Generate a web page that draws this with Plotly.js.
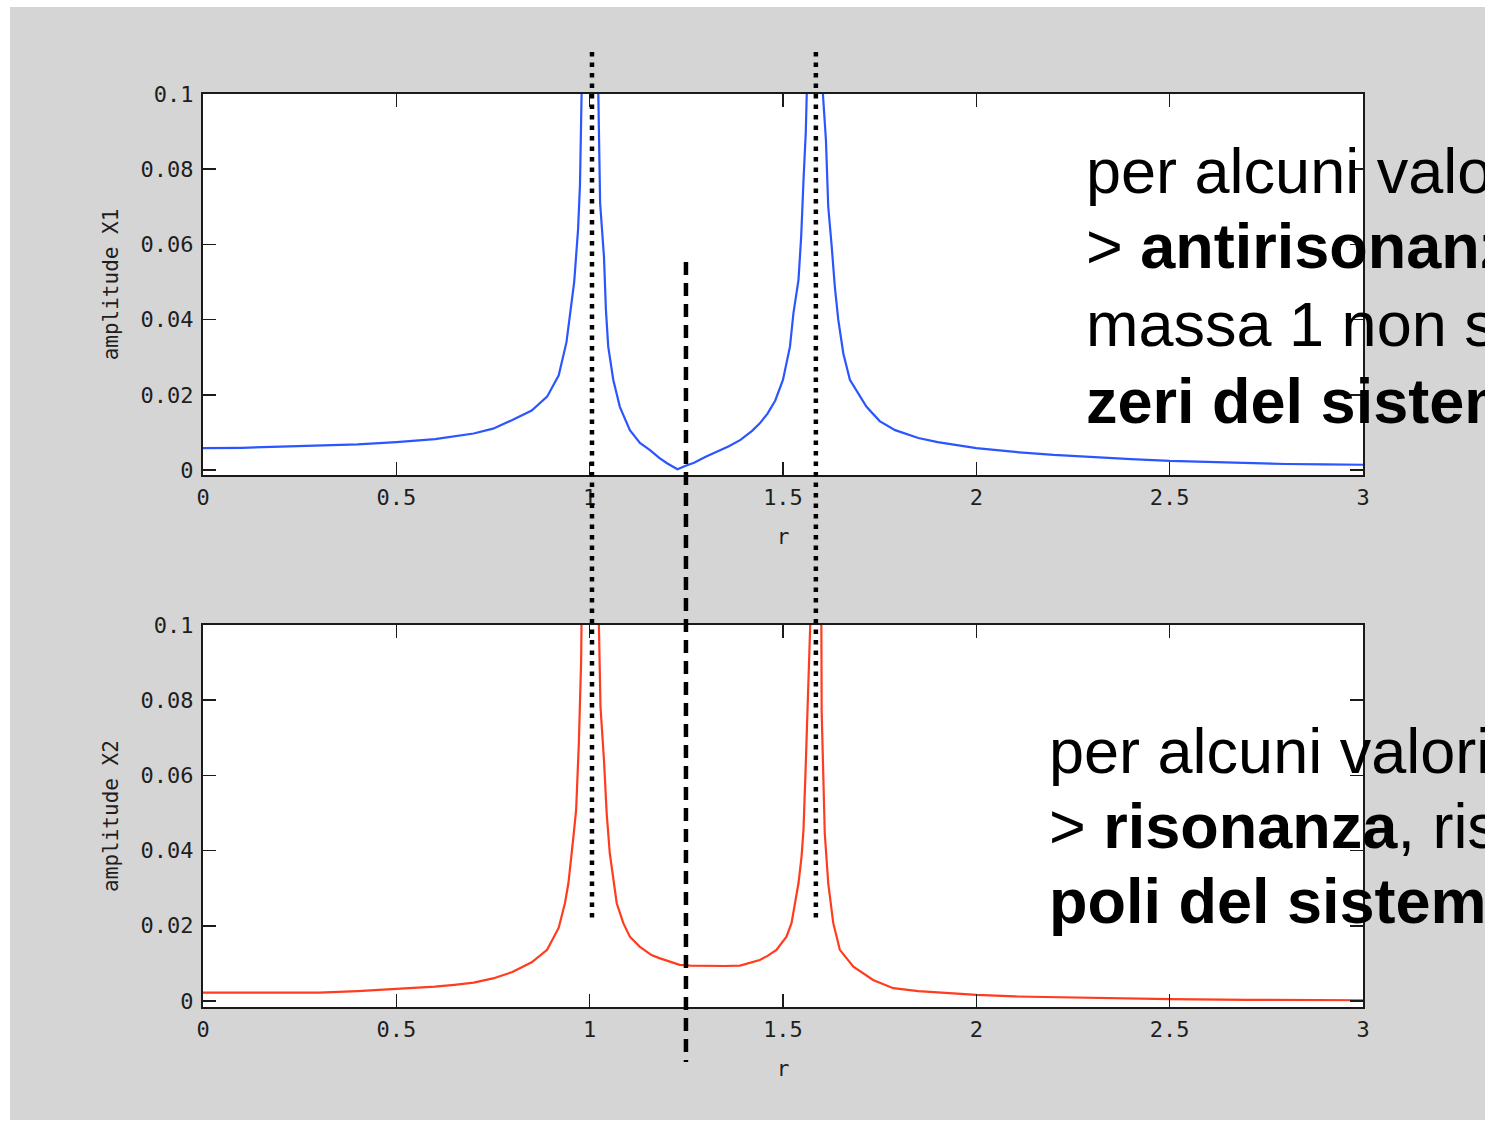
<!DOCTYPE html>
<html>
<head>
<meta charset="utf-8">
<script src="https://cdn.plot.ly/plotly-3.0.1.min.js"></script>
<style>
  html, body { margin: 0; padding: 0; background: #ffffff; }
  #plot { position: absolute; left: 10px; top: 7px; width: 1475px; height: 1113px; }
</style>
</head>
<body>
<div id="plot"></div>
<script>
// ---- Data ----
// Amplitude of mass 1 (X1) versus frequency ratio r
const rX1 = [0, 0.1, 0.2, 0.3, 0.4, 0.5, 0.6, 0.7, 0.75, 0.8, 0.85, 0.89, 0.92, 0.94, 0.95, 0.96, 0.97, 0.975, 0.98, 0.99,
  1.0, 1.01, 1.02, 1.027, 1.037, 1.042, 1.048, 1.061, 1.078, 1.104, 1.13, 1.156, 1.18, 1.2, 1.227, 1.25, 1.27, 1.3, 1.33,
  1.36, 1.39, 1.42, 1.44, 1.46, 1.48, 1.5, 1.518, 1.527, 1.54, 1.547, 1.553, 1.559, 1.565, 1.575, 1.58, 1.59, 1.6,
  1.611, 1.617, 1.626, 1.634, 1.643, 1.656, 1.673, 1.7, 1.716, 1.75, 1.79, 1.85, 1.9, 2.0, 2.1, 2.2, 2.3, 2.4, 2.5,
  2.6, 2.7, 2.8, 2.9, 3.0];
const X1 = [0.0058, 0.0059, 0.0062, 0.0064, 0.0068, 0.0074, 0.0082, 0.0097, 0.0110, 0.0133, 0.0158, 0.0195, 0.0252, 0.0340, 0.0420, 0.0500, 0.0640, 0.0760, 0.1050, 0.2200,
  1.0, 0.2400, 0.1150, 0.0710, 0.0567, 0.0426, 0.0328, 0.0240, 0.0168, 0.0106, 0.0072, 0.0053, 0.0032, 0.0018, 0.0002, 0.0012, 0.0019, 0.0035, 0.0049,
  0.0063, 0.0080, 0.0104, 0.0124, 0.0150, 0.0185, 0.0240, 0.0328, 0.0417, 0.0505, 0.0620, 0.0770, 0.0900, 0.1150, 0.2500, 1.0, 0.3000, 0.1050,
  0.0878, 0.0700, 0.0594, 0.0488, 0.0399, 0.0310, 0.0240, 0.0195, 0.0168, 0.0130, 0.0106, 0.0085, 0.0074, 0.0058, 0.0048, 0.0040, 0.0034, 0.0029, 0.0024,
  0.0021, 0.0018, 0.0016, 0.0015, 0.0014];

// Amplitude of mass 2 (X2) versus frequency ratio r
const rX2 = [0, 0.1, 0.2, 0.3, 0.4, 0.5, 0.55, 0.6, 0.65, 0.7, 0.75, 0.8, 0.85, 0.89, 0.92, 0.936, 0.945, 0.951, 0.958, 0.965,
  0.972, 0.978, 0.985, 0.993, 1.005, 1.015, 1.022, 1.028, 1.037, 1.044, 1.052, 1.061, 1.07, 1.087, 1.104, 1.13, 1.16, 1.18,
  1.21, 1.233, 1.26, 1.3, 1.35, 1.389, 1.42, 1.44, 1.46, 1.483, 1.509, 1.522, 1.531, 1.54, 1.548, 1.553, 1.559, 1.566,
  1.572, 1.578, 1.584, 1.592, 1.6, 1.608, 1.617, 1.63, 1.647, 1.682, 1.733, 1.785, 1.85, 1.9, 2.0, 2.1, 2.2, 2.3, 2.5,
  2.7, 3.0];
const X2 = [0.0022, 0.0022, 0.0022, 0.0022, 0.0026, 0.0031, 0.0034, 0.0038, 0.0043, 0.0049, 0.0060, 0.0077, 0.0103, 0.0136, 0.0195, 0.0260, 0.0313, 0.0366, 0.0437, 0.0508,
  0.0685, 0.0907, 0.1200, 0.2500, 1.0, 0.2500, 0.1100, 0.0783, 0.0641, 0.0499, 0.0393, 0.0331, 0.0260, 0.0207, 0.0171, 0.0144, 0.0122, 0.0114,
  0.0103, 0.0096, 0.0094, 0.0093, 0.0093, 0.0094, 0.0102, 0.0109, 0.0120, 0.0136, 0.0171, 0.0207, 0.0260, 0.0313, 0.0384, 0.0455, 0.0632, 0.0863,
  0.1050, 0.3000, 1.0, 0.3000, 0.0770, 0.0446, 0.0313, 0.0207, 0.0136, 0.0091, 0.0056, 0.0034, 0.0026, 0.0022, 0.0016, 0.0012, 0.0010, 0.0008, 0.0005,
  0.0003, 0.0002];

// Reference lines: resonances (dotted) and antiresonance (dashed)
const resonanceR = [1.006, 1.585];
const antiresonanceR = [1.249];

// Axis ticks
const xTickVals = [0, 0.5, 1, 1.5, 2, 2.5, 3];
const xTickText = ['0', '0.5', '1', '1.5', '2', '2.5', '3'];
const yTickVals = [0, 0.02, 0.04, 0.06, 0.08, 0.1];
const yTickText = ['0', '0.02', '0.04', '0.06', '0.08', '0.1'];

// Texts
const topLines = ['per alcuni valori', '&gt; <b>antirisonanza</b>', 'massa 1 non si muove', '<b>zeri del sistema</b>'];
const bottomLines = ['per alcuni valori', '&gt; <b>risonanza</b>, risposta', '<b>poli del sistema</b>'];

// ---- Styling ----
const tickFont = { family: 'DejaVu Sans Mono, monospace', size: 22, color: '#1e1e1e' };
const titleFont = { family: 'DejaVu Sans Mono, monospace', size: 21, color: '#1e1e1e' };
const lineColor = '#1a1a1a';

function xAxis(anchor) {
  return {
    anchor: anchor, domain: [0, 1], range: [0, 3],
    tickmode: 'array', tickvals: xTickVals, ticktext: xTickText,
    ticks: 'inside', ticklen: 13, tickwidth: 1.5, tickcolor: lineColor,
    showline: true, linewidth: 2, linecolor: lineColor, mirror: 'ticks',
    showgrid: false, zeroline: false, tickfont: tickFont, ticklabelstandoff: 2,
    title: { text: 'r', font: titleFont, standoff: 20 }
  };
}
function yAxis(anchor, domain, range, label) {
  return {
    anchor: anchor, domain: domain, range: range,
    tickmode: 'array', tickvals: yTickVals, ticktext: yTickText,
    ticks: 'inside', ticklen: 13, tickwidth: 1.5, tickcolor: lineColor,
    showline: true, linewidth: 2, linecolor: lineColor, mirror: 'ticks',
    showgrid: false, zeroline: false, tickfont: tickFont, ticklabelstandoff: 3,
    title: { text: label, font: titleFont, standoff: 16 }
  };
}

const traces = [
  { x: rX1, y: X1, xaxis: 'x', yaxis: 'y', mode: 'lines', line: { color: '#2b55ff', width: 2.2 }, hoverinfo: 'x+y' },
  { x: rX2, y: X2, xaxis: 'x2', yaxis: 'y2', mode: 'lines', line: { color: '#ff3c1e', width: 2.2 }, hoverinfo: 'x+y' }
];

const shapes = [];
resonanceR.forEach(r => shapes.push({
  type: 'line', xref: 'x', yref: 'paper', x0: r, x1: r, y0: 1.046, y1: 0.0975,
  line: { color: '#000000', width: 4.5, dash: '4.5px,6px' }, layer: 'above'
}));
antiresonanceR.forEach(r => shapes.push({
  type: 'line', xref: 'x', yref: 'paper', x0: r, x1: r, y0: 0.816, y1: -0.0602,
  line: { color: '#000000', width: 4.5, dash: '13px,8px' }, layer: 'above'
}));

const annFont = { family: 'Liberation Sans, Arial, sans-serif', size: 63, color: '#000000' };
const annotations = [];
const topY = [0.9157, 0.8335, 0.7481, 0.6637];
const botY = [0.2804, 0.1982, 0.1161];
topLines.forEach((t, i) => annotations.push({
  xref: 'paper', yref: 'paper', x: 0.7598, y: topY[i], xanchor: 'left', yanchor: 'middle',
  text: t, showarrow: false, align: 'left', font: annFont
}));
bottomLines.forEach((t, i) => annotations.push({
  xref: 'paper', yref: 'paper', x: 0.7280, y: botY[i], xanchor: 'left', yanchor: 'middle',
  text: t, showarrow: false, align: 'left', font: annFont
}));

const layout = {
  width: 1475, height: 1113,
  margin: { l: 193, r: 122, t: 87, b: 113 },
  paper_bgcolor: '#d5d5d5', plot_bgcolor: '#ffffff',
  showlegend: false,
  xaxis: xAxis('y'),
  yaxis: yAxis('x', [0.5827, 1], [-0.00133, 0.1], 'amplitude X1'),
  xaxis2: xAxis('y2'),
  yaxis2: yAxis('x2', [0, 0.4184], [-0.0016, 0.1], 'amplitude X2'),
  shapes: shapes,
  annotations: annotations
};

Plotly.newPlot('plot', traces, layout, { displayModeBar: false, staticPlot: true });
</script>
</body>
</html>
